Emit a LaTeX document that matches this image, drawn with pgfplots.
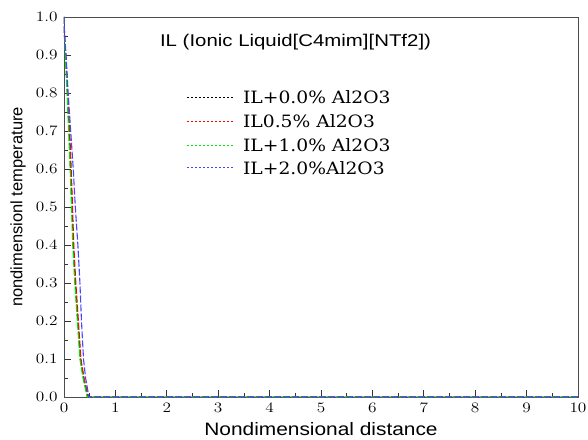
\documentclass[border=0pt]{standalone}
\usepackage{pgfplots}
\pgfplotsset{compat=1.18}
\usepackage{graphicx}
\usepackage{fontspec}
\setmainfont{Liberation Sans}
\newfontfamily\legfont{DejaVu Serif}
\definecolor{cblue}{RGB}{70,70,255}
\definecolor{cgreen}{RGB}{0,230,0}
\definecolor{cred}{RGB}{255,0,0}
\begin{document}
\begin{tikzpicture}
\begin{axis}[
  scale only axis,
  width=514pt, height=380pt,
  xmin=0, xmax=10, ymin=0, ymax=1,
  xtick={0,1,...,10}, minor x tick num=1,
  ytick={0,0.1,...,1.0}, minor y tick num=1,
  tick align=inside,
  xtick pos=bottom, ytick pos=left,
  major tick length=7pt, minor tick length=4pt,
  axis line style={line width=0.8pt, black!70},
  every tick/.style={black!80, line width=0.8pt},
  xticklabel={\scalebox{1.2}[1]{\pgfmathprintnumber{\tick}}},
  yticklabel={\scalebox{1.2}[1]{\pgfmathprintnumber[fixed,fixed zerofill,precision=1]{\tick}}},
  tick label style={font=\fontsize{13.5}{14}\selectfont},
  xticklabel style={yshift=-3pt},
  yticklabel style={xshift=-3pt},
  xlabel={\scalebox{1.16}[1]{Nondimensional distance}},
  ylabel={nondimensionl temperature},
  xlabel style={font=\fontsize{18}{20}\selectfont, at={(rel axis cs:0.5,0)}, anchor=center, yshift=-32pt},
  ylabel style={font=\fontsize{16.5}{19}\selectfont, at={(rel axis cs:0,0.5)}, anchor=center, yshift=46pt},
]
\addplot[black, line width=1.1pt, dash pattern=on 7pt off 2pt] coordinates {
(0,1) (0.01,0.95) (0.03,0.9) (0.066,0.8) (0.10,0.7) (0.13,0.6) (0.156,0.5) (0.18,0.4) (0.22,0.3) (0.27,0.2) (0.32,0.1) (0.38,0.05) (0.43,0.02) (0.46,0) (10,0)};
\addplot[cred, line width=1.1pt, dash pattern=on 7pt off 2pt] coordinates {
(0,1) (0.012,0.95) (0.035,0.9) (0.072,0.8) (0.11,0.7) (0.14,0.6) (0.166,0.5) (0.19,0.4) (0.23,0.3) (0.28,0.2) (0.33,0.1) (0.39,0.05) (0.44,0.02) (0.47,0) (10,0)};
\addplot[cgreen, line width=1.1pt, dash pattern=on 7pt off 2pt] coordinates {
(0,1) (0.008,0.95) (0.025,0.9) (0.06,0.8) (0.09,0.7) (0.12,0.6) (0.146,0.5) (0.17,0.4) (0.21,0.3) (0.26,0.2) (0.31,0.1) (0.37,0.05) (0.42,0.02) (0.45,0) (10,0)};
\addplot[cblue, line width=1.1pt, dash pattern=on 7pt off 2pt] coordinates {
(0,1) (0.012,0.95) (0.04,0.9) (0.08,0.8) (0.13,0.7) (0.18,0.6) (0.22,0.5) (0.27,0.4) (0.31,0.3) (0.34,0.2) (0.38,0.1) (0.42,0.05) (0.46,0.02) (0.48,0) (10,0)};
% legend (drawn by hand so that its line colours are kept)
\draw[black, line width=0.9pt, dash pattern=on 2.5pt off 1.5pt] (rel axis cs:0.239,0.789) -- (rel axis cs:0.329,0.789);
\node[anchor=west, inner sep=0pt, font=\legfont\fontsize{17}{19}\selectfont] at (rel axis cs:0.348,0.789) {\scalebox{1.1}[1]{IL+0.0\% Al2O3}};
\draw[cred, line width=0.9pt, dash pattern=on 2.5pt off 1.5pt] (rel axis cs:0.239,0.726) -- (rel axis cs:0.329,0.726);
\node[anchor=west, inner sep=0pt, font=\legfont\fontsize{17}{19}\selectfont] at (rel axis cs:0.348,0.726) {\scalebox{1.1}[1]{IL0.5\% Al2O3}};
\draw[cgreen, line width=0.9pt, dash pattern=on 2.5pt off 1.5pt] (rel axis cs:0.239,0.663) -- (rel axis cs:0.329,0.663);
\node[anchor=west, inner sep=0pt, font=\legfont\fontsize{17}{19}\selectfont] at (rel axis cs:0.348,0.663) {\scalebox{1.1}[1]{IL+1.0\% Al2O3}};
\draw[cblue, line width=0.9pt, dash pattern=on 2.5pt off 1.5pt] (rel axis cs:0.239,0.603) -- (rel axis cs:0.329,0.603);
\node[anchor=west, inner sep=0pt, font=\legfont\fontsize{17}{19}\selectfont] at (rel axis cs:0.348,0.603) {\scalebox{1.1}[1]{IL+2.0\%Al2O3}};
\node[anchor=west, font=\fontsize{17}{18}\selectfont] at (rel axis cs:0.18,0.934) {\scalebox{1.2}[1]{IL (Ionic Liquid[C4mim][NTf2])}};
\end{axis}
\pgfresetboundingbox
\path ([xshift=-64pt,yshift=-42pt]current axis.south west) rectangle ([xshift=10pt,yshift=17pt]current axis.north east);
\end{tikzpicture}
\end{document}
